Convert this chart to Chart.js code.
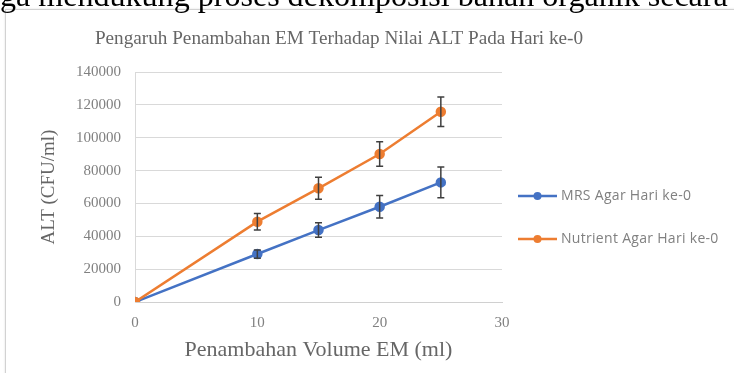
<!DOCTYPE html>
<html>
<head>
<meta charset="utf-8">
<script src="https://cdn.jsdelivr.net/npm/chart.js@4.4.1/dist/chart.umd.min.js"></script>
<style>
  html, body { margin: 0; padding: 0; background: #fff; overflow: hidden; }
  body { width: 734px; height: 373px; position: relative; }
  #frame { position: absolute; left: 5px; top: 9px; width: 760px; height: 400px;
           border: 1px solid #d2d2d2; box-shadow: 0 0 2px rgba(0,0,0,0.12); background: #fff; }
  #wrap { position: absolute; left: 0; top: 0; width: 734px; height: 373px; }
  #doctext { position: absolute; left: 0; white-space: nowrap; color: #000;
             font-family: "Liberation Serif", "DejaVu Serif", serif; line-height: normal; z-index: 5; }
</style>
</head>
<body>
<div id="frame"></div>
<div id="doctext">ga mendukung proses dekomposisi bahan organik secara</div>
<div id="wrap"><canvas id="c" width="734" height="373"></canvas></div>
<script>
// ---- data ----
const chartTitle = "Pengaruh Penambahan EM Terhadap Nilai ALT Pada Hari ke-0";
const xTitle = "Penambahan Volume EM (ml)";
const yTitle = "ALT (CFU/ml)";
const volumes = [0, 10, 15, 20, 25];
const mrsLabel = "MRS Agar Hari ke-0";
const mrsValues = [0, 29200, 43800, 58000, 72800];
const mrsErrors = [0, 2500, 4400, 6800, 9300];
const nutrientLabel = "Nutrient Agar Hari ke-0";
const nutrientValues = [0, 48900, 69200, 90100, 115800];
const nutrientErrors = [0, 5000, 6700, 7400, 9000];
const xTicks = [0, 10, 20, 30];
const yTicks = [0, 20000, 40000, 60000, 80000, 100000, 120000, 140000];

const SERIF = '"Liberation Serif", "DejaVu Serif", serif';

// ---- document text fitting ----
(function(){
  const el = document.getElementById('doctext');
  const ctx = document.createElement('canvas').getContext('2d');
  ctx.font = '100px ' + SERIF;
  const w = ctx.measureText(el.textContent).width;
  const fs = 728 / w * 100;
  el.style.fontSize = fs + 'px';
  el.style.top = (6 - 0.891 * fs) + 'px';
})();

const BLUE = '#4472C4', ORANGE = '#ED7D31';
const errorMap = { 0: mrsErrors, 1: nutrientErrors };

const errorBars = {
  id: 'errorBars',
  afterDatasetsDraw(chart) {
    const ctx = chart.ctx, ys = chart.scales.y;
    ctx.save();
    ctx.strokeStyle = '#3f3f3f';
    ctx.lineWidth = 1.5;
    chart.data.datasets.forEach((ds, i) => {
      const errs = errorMap[i];
      chart.getDatasetMeta(i).data.forEach((pt, j) => {
        const e = errs[j];
        if (!e) return;
        const v = ds.data[j].y;
        const yTop = ys.getPixelForValue(v + e), yBot = ys.getPixelForValue(v - e);
        ctx.beginPath();
        ctx.moveTo(pt.x, yTop); ctx.lineTo(pt.x, yBot);
        ctx.moveTo(pt.x - 3.5, yTop); ctx.lineTo(pt.x + 3.5, yTop);
        ctx.moveTo(pt.x - 3.5, yBot); ctx.lineTo(pt.x + 3.5, yBot);
        ctx.stroke();
      });
    });
    ctx.restore();
  }
};

const headTitle = {
  id: 'headTitle',
  afterDraw(chart) {
    const ctx = chart.ctx;
    ctx.save();
    if ('letterSpacing' in ctx) ctx.letterSpacing = '0px';
    ctx.fillStyle = '#666';
    ctx.font = Chart.helpers.toFont({ family: SERIF, size: 19.2 }).string;
    ctx.textAlign = 'center';
    ctx.textBaseline = 'middle';
    ctx.fillText(chartTitle, 339, 39);
    ctx.restore();
  }
};

const sideLegend = {
  id: 'sideLegend',
  afterDraw(chart) {
    const ctx = chart.ctx;
    const x0 = chart.chartArea.right + 16;
    ctx.save();
    chart.data.datasets.forEach((ds, i) => {
      const y = 196 + i * 43;
      ctx.strokeStyle = ds.borderColor;
      ctx.lineWidth = 2.5;
      ctx.beginPath(); ctx.moveTo(x0, y); ctx.lineTo(x0 + 39, y); ctx.stroke();
      ctx.fillStyle = ds.borderColor;
      ctx.beginPath(); ctx.arc(x0 + 19.5, y, 4, 0, Math.PI * 2); ctx.fill();
      ctx.fillStyle = '#808080';
      ctx.font = Chart.helpers.toFont({ family: '"Open Sans", sans-serif', size: 14 }).string;
      if ('letterSpacing' in ctx) ctx.letterSpacing = '0.3px';
      ctx.textBaseline = 'middle';
      ctx.textAlign = 'left';
      ctx.fillText(ds.label, x0 + 43, y);
    });
    if ('letterSpacing' in ctx) ctx.letterSpacing = '0px';
    ctx.restore();
  }
};

const toPts = (xs, ys) => xs.map((x, i) => ({ x: x, y: ys[i] }));

new Chart(document.getElementById('c'), {
  type: 'line',
  data: {
    datasets: [
      { label: mrsLabel, data: toPts(volumes, mrsValues), borderColor: BLUE, backgroundColor: BLUE,
        borderWidth: 2.5, pointRadius: 4, pointBackgroundColor: BLUE, pointBorderColor: BLUE, order: 1, tension: 0 },
      { label: nutrientLabel, data: toPts(volumes, nutrientValues), borderColor: ORANGE, backgroundColor: ORANGE,
        borderWidth: 2.5, pointRadius: 4, pointBackgroundColor: ORANGE, pointBorderColor: ORANGE, order: 0, tension: 0 }
    ]
  },
  options: {
    responsive: false,
    animation: false,
    events: [],
    layout: { padding: { left: 30, right: 232, top: 72, bottom: 5 } },
    plugins: {
      legend: { display: false },
      tooltip: { enabled: false },
      title: { display: false }
    },
    scales: {
      x: {
        type: 'linear', min: 0, max: 30,
        afterBuildTicks(s) { s.ticks = xTicks.map(v => ({ value: v })); },
        afterFit(s) { s.height = 66; },
        grid: { display: false, drawTicks: false },
        border: { display: true, color: '#d0d0d0', width: 1 },
        ticks: { padding: 12, color: '#808080', font: { family: SERIF, size: 15 } },
        title: { display: true, text: xTitle, color: '#666',
                 font: { family: SERIF, size: 22 }, padding: { top: 0, bottom: 4.8 } }
      },
      y: {
        type: 'linear', min: 0, max: 140000,
        afterBuildTicks(s) { s.ticks = yTicks.map(v => ({ value: v })); },
        afterFit(s) { s.width = 105; },
        grid: { color: '#d9d9d9', lineWidth: 1, drawTicks: false },
        border: { display: true, color: '#d9d9d9', width: 1 },
        ticks: { padding: 14, color: '#808080', font: { family: SERIF, size: 15 },
                 callback: v => String(v) },
        title: { display: true, text: yTitle, color: '#666',
                 font: { family: SERIF, size: 19 }, padding: { top: 7.6, bottom: 0 } }
      }
    }
  },
  plugins: [errorBars, headTitle, sideLegend]
});
</script>
</body>
</html>
